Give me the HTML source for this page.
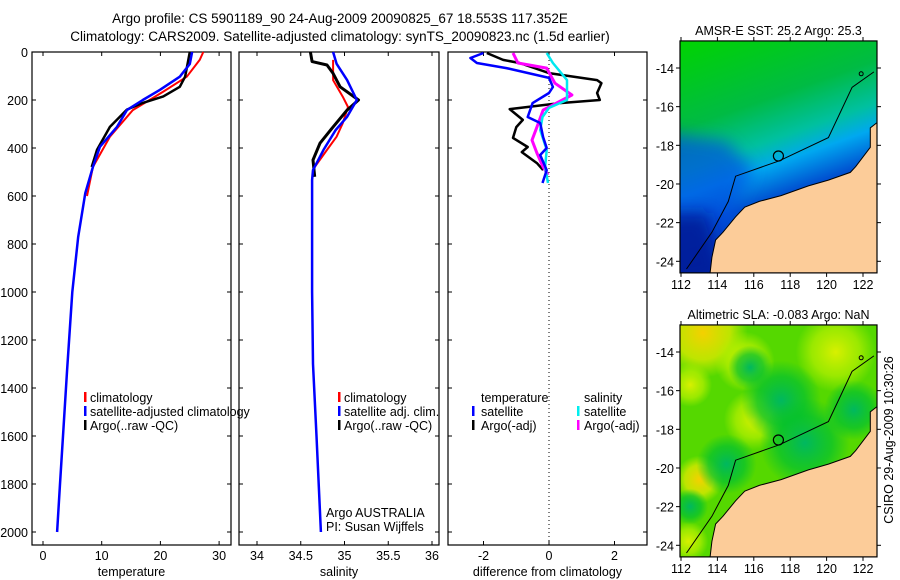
<!DOCTYPE html>
<html><head><meta charset="utf-8"><style>
body{margin:0;background:#fff;}
svg{display:block;font-family:"Liberation Sans",sans-serif;}
text{font-size:12.5px;fill:#000;}
</style></head><body>
<svg id="fig" width="900" height="580" viewBox="0 0 900 580" xmlns="http://www.w3.org/2000/svg">
<defs>
<linearGradient id="sstg" x1="0" y1="0" x2="0.3" y2="1">
<stop offset="0" stop-color="#00d400"/><stop offset="0.35" stop-color="#00bb44"/><stop offset="0.52" stop-color="#00c0a0"/><stop offset="0.62" stop-color="#00a8f0"/><stop offset="0.75" stop-color="#0050d0"/><stop offset="1" stop-color="#001090"/>
</linearGradient>
<radialGradient id="y1" cx="0.5" cy="0.5" r="0.5"><stop offset="0" stop-color="#f4d000"/><stop offset="0.6" stop-color="#d8e800" stop-opacity="0.8"/><stop offset="1" stop-color="#c8f000" stop-opacity="0"/></radialGradient>
<radialGradient id="y2" cx="0.5" cy="0.5" r="0.5"><stop offset="0" stop-color="#d8f000"/><stop offset="0.6" stop-color="#b8f000" stop-opacity="0.7"/><stop offset="1" stop-color="#b0f000" stop-opacity="0"/></radialGradient>
<radialGradient id="t1" cx="0.5" cy="0.5" r="0.5"><stop offset="0" stop-color="#00b860"/><stop offset="0.6" stop-color="#00c030" stop-opacity="0.7"/><stop offset="1" stop-color="#00c030" stop-opacity="0"/></radialGradient>
<filter id="blur" x="-20%" y="-20%" width="140%" height="140%"><feGaussianBlur stdDeviation="8"/></filter>
<clipPath id="clip1"><rect x="680" y="41" width="197" height="232"/></clipPath>
<clipPath id="clip2"><rect x="680" y="325" width="197" height="232"/></clipPath>
</defs>
<text x="340" y="23" text-anchor="middle" style="font-size:13.5px">Argo profile: CS 5901189_90 24-Aug-2009 20090825_67 18.553S 117.352E</text>
<text x="340" y="41" text-anchor="middle" style="font-size:13.5px">Climatology: CARS2009. Satellite-adjusted climatology: synTS_20090823.nc (1.5d earlier)</text>
<g id="plots"></g>
<g id="maps"></g>
<text transform="translate(893,440) rotate(-90)" text-anchor="middle">CSIRO 29-Aug-2009 10:30:26</text>
</svg>
<script>
// ---- data ----
const depthTicks=[0,200,400,600,800,1000,1200,1400,1600,1800,2000];
const tempTicks=[0,10,20,30];
const salTicks=[34,34.5,35,35.5,36];
const diffTicks=[-2,0,2];
const tempClimDepth=[0,33,103,165,242,353,479,600];
const tempClim=[27.3,26.7,24.5,20.5,15.3,11.4,8.5,7.5];
const tempSatDepth=[0,50,103,158,200,242,312,395,479,588,770,1000,1325,1600,1800,2000];
const tempSat=[25.4,25.0,23.3,19.9,17.0,14.3,12.6,9.7,8.5,7.2,6.0,5.0,4.1,3.4,2.9,2.4];
const tempArgoDepth=[0,40,103,145,185,212,240,312,408,479];
const tempArgo=[25.0,24.7,24.2,23.3,20.5,17.0,14.3,11.4,9.2,8.3];
const salClimDepth=[33,117,186,229,297,353,408,479,530];
const salClim=[34.87,34.87,34.98,35.04,34.98,34.91,34.80,34.66,34.63];
const salSatDepth=[0,49,117,200,270,325,408,492,533,1000,1300,1600,2000];
const salSat=[34.87,34.91,35.03,35.14,35.03,34.90,34.76,34.64,34.63,34.63,34.64,34.68,34.73];
const salArgoDepth=[0,40,54,89,145,200,242,312,380,450,520];
const salArgo=[34.61,34.63,34.80,34.87,34.95,35.16,35.03,34.87,34.72,34.64,34.66];
const dTSatDepth=[4,25,46,67,108,146,171,213,271,296,354,400,429,492,546];
const dTSat=[-2.0,-2.4,-2.2,-1.3,0,0.12,0,-0.5,-0.65,-0.27,-0.18,-0.07,-0.27,-0.07,-0.2];
const dTArgoDepth=[4,33,46,88,117,130,171,200,213,238,283,313,358,396,417,463,492];
const dTArgo=[-1.9,-1.4,-0.9,0,1.47,1.6,1.47,1.55,0.33,-1.2,-0.8,-1.0,-1.1,-0.65,-0.83,-0.37,-0.18];
const dSSatDepth=[4,46,117,200,233,271,325,408,479,546];
const dSSat=[-0.07,0.12,0.55,0.55,0,-0.2,-0.27,-0.07,-0.12,-0.03];
const dSArgoDepth=[4,46,67,130,179,221,242,313,367,421,479,512];
const dSArgo=[-1.1,-0.95,-0.07,0.18,0.7,0.12,-0.18,-0.37,-0.52,-0.37,-0.18,-0.03];
const latTicks=[-14,-16,-18,-20,-22,-24];
const lonTicks=[112,114,116,118,120,122];
const coastLon=[122.8,122.4,122.4,121.6,121.3,120.1,119.0,117.5,116.3,115.5,115.0,114.3,113.9,113.7,113.6];
const coastLat=[-16.8,-17.1,-18.1,-19.1,-19.4,-19.8,-20.1,-20.6,-20.9,-21.2,-21.7,-22.5,-22.9,-23.8,-24.6];
const isoLon=[112.3,113.7,114.6,115.0,117.4,120.1,120.8,121.4,122.6];
const isoLat=[-24.4,-22.5,-20.9,-19.6,-18.8,-17.6,-16.2,-15.0,-14.2];
const floatLon=[117.352], floatLat=[-18.553];

// ---- helpers ----
const NS="http://www.w3.org/2000/svg";
function mk(tag,attrs,parent){const e=document.createElementNS(NS,tag);for(const k in attrs)e.setAttribute(k,attrs[k]);parent.appendChild(e);return e;}
const plots=document.getElementById('plots');
const yD=d=>52+d*0.24;
const pTop=52,pBot=545;
function panel(name,x0,x1,xs,ticks,fmt,label){
  const g=mk('g',{},plots);
  
  
  const r=mk('rect',{x:x0,y:pTop,width:x1-x0,height:pBot-pTop,fill:'none',stroke:'#000','stroke-width':1.2},g);
  
  
  ticks.forEach(t=>{const x=xs(t);
    mk('line',{x1:x,x2:x,y1:pBot,y2:pBot-4,stroke:'#000'},g);mk('line',{x1:x,x2:x,y1:pTop,y2:pTop+4,stroke:'#000'},g);
    const tx=mk('text',{x:x,y:pBot+15,'text-anchor':'middle'},g);tx.textContent=fmt(t);
    
    });
  depthTicks.forEach(d=>{const y=yD(d);mk('line',{x1:x0,x2:x0+4,y1:y,y2:y,stroke:'#000'},g);mk('line',{x1:x1,x2:x1-4,y1:y,y2:y,stroke:'#000'},g);});
  const xl=mk('text',{x:(x0+x1)/2,y:576,'text-anchor':'middle'},g);xl.textContent=label;
  
  
  return g;
}
function line(g,xs,vals,depths,color,w,name){
  const pts=vals.map((v,i)=>xs(v).toFixed(1)+','+yD(depths[i]).toFixed(1)).join(' ');
  const p=mk('polyline',{points:pts,fill:'none',stroke:color,'stroke-width':w,'stroke-linejoin':'round'},g);
  
  
}
function txt(g,x,y,s,name){const t=mk('text',{x:x,y:y},g);t.textContent=s;
  
  return t;}
function mark(g,x,y,c){mk('rect',{x:x,y:y-10,width:2.5,height:10,fill:c},g);}

depthTicks.forEach(d=>{const t=mk('text',{x:28,y:yD(d)+5,'text-anchor':'end'},plots);t.textContent=d;
  
  });

const xT=t=>43+t*5.87;
const gT=panel('temperature-panel',32,231,xT,tempTicks,String,'temperature');
line(gT,xT,tempClim,tempClimDepth,'#ff0000',2,'temp-climatology-line');
line(gT,xT,tempArgo,tempArgoDepth,'#000000',2.5,'temp-argo-line');
line(gT,xT,tempSat,tempSatDepth,'#0000ff',2.5,'temp-satellite-line');
mark(gT,84,402,'#f00');txt(gT,90,402,'climatology','legend-climatology');
mark(gT,84,416,'#00f');txt(gT,90,416,'satellite-adjusted climatology','legend-satellite');
mark(gT,84,430,'#000');txt(gT,90,430,'Argo(..raw -QC)','legend-argo');

const xS=s=>257+(s-34)*87.5;
const gS=panel('salinity-panel',239,439,xS,salTicks,String,'salinity');
line(gS,xS,salClim,salClimDepth,'#ff0000',2,'sal-climatology-line');
line(gS,xS,salArgo,salArgoDepth,'#000000',3,'sal-argo-line');
line(gS,xS,salSat,salSatDepth,'#0000ff',2.5,'sal-satellite-line');
mark(gS,338,402,'#f00');txt(gS,344,402,'climatology','legend-climatology');
mark(gS,338,416,'#00f');txt(gS,344,416,'satellite adj. clim.','legend-satellite');
mark(gS,338,430,'#000');txt(gS,344,430,'Argo(..raw -QC)','legend-argo');
txt(gS,326,517,'Argo AUSTRALIA','argo-australia-label');
txt(gS,326,531,'PI: Susan Wijffels','pi-label');

const xDf=v=>549+v*32.75;
const gD=panel('difference-panel',448,647,xDf,diffTicks,String,'difference from climatology');
mk('line',{x1:xDf(0),x2:xDf(0),y1:pTop,y2:pBot,stroke:'#000','stroke-dasharray':'1,3'},gD);
line(gD,xDf,dTArgo,dTArgoDepth,'#000000',2.5,'diff-temp-argo-line');
line(gD,xDf,dSArgo,dSArgoDepth,'#ff00ff',3,'diff-sal-argo-line');
line(gD,xDf,dSSat,dSSatDepth,'#00e8f0',2.5,'diff-sal-satellite-line');
line(gD,xDf,dTSat,dTSatDepth,'#0000ff',2.5,'diff-temp-satellite-line');
txt(gD,481,402,'temperature','legend-temperature-head');
txt(gD,584,402,'salinity','legend-salinity-head');
mark(gD,472,416,'#00f');txt(gD,481,416,'satellite','legend-temp-satellite');
mark(gD,577,416,'#0ee');txt(gD,584,416,'satellite','legend-sal-satellite');
mark(gD,472,430,'#000');txt(gD,481,430,'Argo(-adj)','legend-temp-argo');
mark(gD,577,430,'#f0f');txt(gD,584,430,'Argo(-adj)','legend-sal-argo');

const maps=document.getElementById('maps');
const mx=lon=>681+(lon-112)*18.2;
function drawMap(name,oy,title,sst,clip){
  const my=lat=>oy+(-14-lat)*19.33;
  const g=mk('g',{},maps);
  
  
  const x0=680,x1=877,y0=my(-12.6),y1=my(-24.6);
  const t=mk('text',{x:(x0+x1)/2,y:y0-6,'text-anchor':'middle'},g);t.textContent=title;
  
  
  const f=mk('g',{'clip-path':`url(#${clip})`},g);
  if(sst){mk('rect',{x:x0,y:y0,width:x1-x0,height:y1-y0,fill:'url(#sstg)'},f);
    mk('polygon',{points:`${x0-20},${my(-17.3)} ${mx(114.5)},${my(-17.8)} ${mx(116)},${my(-19.3)} ${mx(115)},${my(-21)} ${mx(114.5)},${my(-25)} ${x0-20},${y1+20}`,fill:'#0050e0',opacity:0.7,filter:'url(#blur)'},f);
    mk('polygon',{points:`${x0-20},${my(-21.5)} ${mx(113.5)},${my(-21.5)} ${mx(114.5)},${my(-25)} ${x0-20},${y1+20}`,fill:'#001590',opacity:0.8,filter:'url(#blur)'},f);
  } else {
    mk('rect',{x:x0,y:y0,width:x1-x0,height:y1-y0,fill:'#55d800'},f);
    [[113.2,-13,45,'y1'],[115.5,-14.5,30,'y2'],[120.5,-14,40,'y2'],[116,-17.5,30,'y2'],[113,-20.6,24,'y1'],[112.4,-23.8,20,'y2'],[112.5,-15.7,22,'y2'],
     [115.8,-14.8,22,'t1'],[117.5,-16.5,40,'t1'],[118.8,-18.7,45,'t1'],[114.5,-19.8,30,'t1'],[121.5,-17,30,'t1'],[112.5,-22,18,'t1']].forEach(b=>{
      mk('circle',{cx:mx(b[0]),cy:my(b[1]),r:b[2],fill:`url(#${b[3]})`},f);});
  }
  const land=coastLon.map((l,i)=>mx(l).toFixed(1)+','+my(coastLat[i]).toFixed(1)).join(' ');
  const lp=mk('polygon',{points:land+` ${x1},${y1} ${x1},${my(coastLat[0])}`,fill:'#fccc99'},f);
  
  
  mk('polyline',{points:land,fill:'none',stroke:'#000','stroke-width':1},f);
  mk('polyline',{points:isoLon.map((l,i)=>mx(l).toFixed(1)+','+my(isoLat[i]).toFixed(1)).join(' '),fill:'none',stroke:'#000','stroke-width':1},f);
  mk('circle',{cx:mx(121.9),cy:my(-14.3),r:2,fill:'none',stroke:'#000'},f);
  const c=mk('circle',{cx:mx(floatLon[0]),cy:my(floatLat[0]),r:5,fill:'none',stroke:'#000','stroke-width':1.2},f);
  
  
  mk('rect',{x:x0,y:y0,width:x1-x0,height:y1-y0,fill:'none',stroke:'#000','stroke-width':1.2},g);
  lonTicks.forEach(l=>{const x=mx(l);mk('line',{x1:x,x2:x,y1:y1,y2:y1+4,stroke:'#000'},g);mk('line',{x1:x,x2:x,y1:y0,y2:y0-4,stroke:'#000'},g);
    const tt=mk('text',{x:x,y:y1+16,'text-anchor':'middle'},g);tt.textContent=l;
    
    });
  latTicks.forEach(l=>{const y=my(l);mk('line',{x1:x0,x2:x0-4,y1:y,y2:y,stroke:'#000'},g);mk('line',{x1:x1,x2:x1+4,y1:y,y2:y,stroke:'#000'},g);
    const tt=mk('text',{x:x0-6,y:y+5,'text-anchor':'end'},g);tt.textContent=l;
    
    });
}
drawMap('sst-map',68,'AMSR-E SST: 25.2 Argo: 25.3',true,'clip1');
drawMap('sla-map',352,'Altimetric SLA: -0.083 Argo: NaN',false,'clip2');
</script>
</body></html>
